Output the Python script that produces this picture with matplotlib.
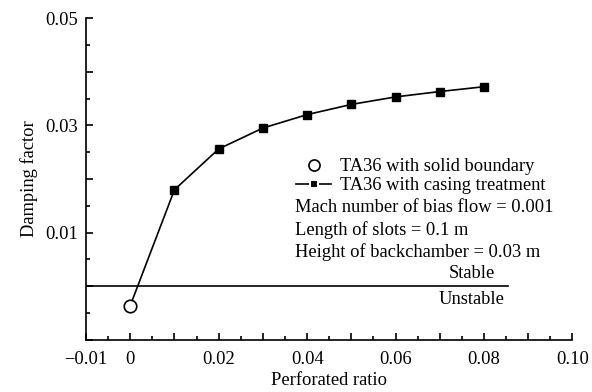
import numpy as np
import matplotlib.pyplot as plt
from matplotlib.ticker import MultipleLocator, FuncFormatter
from matplotlib.lines import Line2D

plt.rcParams['font.family'] = ['Liberation Serif', 'DejaVu Serif']

# perforated ratio vs damping factor
solid_x = [0.0]
solid_y = [-0.0036]

casing_x = [0.01, 0.02, 0.03, 0.04, 0.05, 0.06, 0.07, 0.08]
casing_y = [0.0180, 0.0256, 0.0295, 0.0320, 0.0339, 0.0353, 0.0363, 0.0372]

stable_level = 0.0
stable_xmax = 0.0855

x_labels = {-0.01: '\u22120.01', 0.0: '0', 0.02: '0.02', 0.04: '0.04',
            0.06: '0.06', 0.08: '0.08', 0.10: '0.10'}
y_labels = {0.01: '0.01', 0.03: '0.03', 0.05: '0.05'}

fig = plt.figure(figsize=(5.92, 3.92), dpi=100)
ax = fig.add_axes([0.1453, 0.1327, 0.8217, 0.8213])

fs = 13.3

# line from the solid-boundary point through the casing-treatment points
ax.plot(solid_x + casing_x, solid_y + casing_y, color='black', lw=1.2, zorder=2)
ax.plot(casing_x, casing_y, ls='none', marker='s', ms=6, color='black', zorder=3)
ax.plot(solid_x, solid_y, ls='none', marker='o', ms=9, mfc='white', mec='black',
        mew=1.2, zorder=4)

ax.plot([-0.01, stable_xmax], [stable_level, stable_level], color='black', lw=1.2)

ax.set_xlim(-0.01, 0.10)
ax.set_ylim(-0.01, 0.05)

def fmt(labels):
    def f(v, pos):
        for k, s in labels.items():
            if abs(v - k) < 1e-9:
                return s
        return ''
    return FuncFormatter(f)

ax.xaxis.set_major_locator(MultipleLocator(0.01))
ax.xaxis.set_minor_locator(MultipleLocator(0.005))
ax.yaxis.set_major_locator(MultipleLocator(0.01))
ax.yaxis.set_minor_locator(MultipleLocator(0.005))
ax.xaxis.set_major_formatter(fmt(x_labels))
ax.yaxis.set_major_formatter(fmt(y_labels))

ax.tick_params(which='both', direction='in', width=1.2, labelsize=fs)
ax.tick_params(axis='x', pad=8)
ax.tick_params(axis='y', pad=6)
ax.tick_params(which='major', length=5)
ax.tick_params(which='minor', length=3)
for s in ['top', 'right']:
    ax.spines[s].set_visible(False)
for s in ['left', 'bottom']:
    ax.spines[s].set_linewidth(1.2)

ax.set_xlabel('Perforated ratio', fontsize=fs, labelpad=3)
ax.set_ylabel('Damping factor', fontsize=fs, labelpad=5)

handles = [
    Line2D([], [], ls='none', marker='o', ms=8, mfc='white', mec='black', mew=1.2),
    Line2D([], [], color='black', lw=1.2, marker='s', ms=6, mec='white', mew=1.5),
]
ax.legend(handles, ['TA36 with solid boundary', 'TA36 with casing treatment'],
          loc='upper left', bbox_to_anchor=(0.405, 0.605), frameon=False,
          fontsize=fs, handlelength=1.9, handletextpad=0.5, labelspacing=0.1,
          borderpad=0.2)

notes = ['Mach number of bias flow = 0.001',
         'Length of slots = 0.1 m',
         'Height of backchamber = 0.03 m']
for i, t in enumerate(notes):
    ax.text(0.43, 0.41 - i * 0.069, t, transform=ax.transAxes, fontsize=fs,
            ha='left', va='center')

ax.text(0.793, 0.206, 'Stable', transform=ax.transAxes, fontsize=fs,
        ha='center', va='center')
ax.text(0.793, 0.126, 'Unstable', transform=ax.transAxes, fontsize=fs,
        ha='center', va='center')

fig.savefig('out.png', dpi=100)
